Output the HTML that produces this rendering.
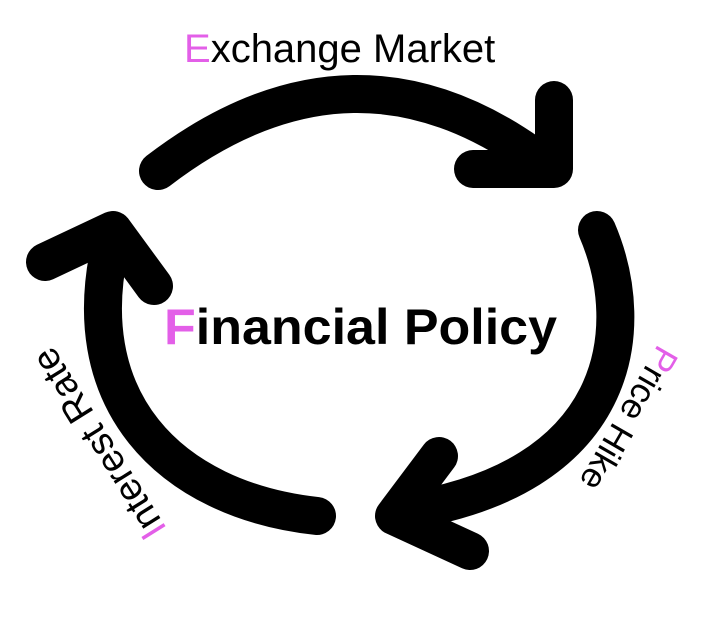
<!DOCTYPE html>
<html><head><meta charset="utf-8"><style>
html,body{margin:0;padding:0;background:#fff;}
.w{position:relative;width:706px;height:618px;overflow:hidden;font-family:"Liberation Sans",sans-serif;}
.t{position:absolute;white-space:nowrap;}
.p{color:#e35fe8;}
</style></head><body><div class="w">
<svg width="706" height="618" style="position:absolute;left:0;top:0">
<g fill="none" stroke="#000" stroke-width="38" stroke-linecap="round" stroke-linejoin="round">
<path d="M158,171 Q355,20 545,165"/>
<path d="M554,100 L554,169 L473,169"/>
<path d="M597,230 C640,330 620,480 400,512"/>
<path d="M439,456 L394,516 L470,551"/>
<path d="M317,516 C170,500 70,400 113,235"/>
<path d="M45,262 L113,230 L154,286"/>
</g>
</svg>
<div class="t" style="left:184px;top:27px;font-size:40px;color:#000;">
<span class="p">E</span>xchange Market</div>
<div class="t" style="left:164px;top:298px;font-size:50px;font-weight:bold;color:#000;transform-origin:0 0;transform:scaleX(1.04);">
<span class="p">F</span>inancial Policy</div>
<div class="t" style="left:628px;top:418px;font-size:35px;transform:translate(-50%,-50%) rotate(120deg);">
<span class="p">P</span>rice Hike</div>
<div class="t" style="left:100px;top:443px;font-size:38px;transform:translate(-50%,-50%) rotate(238deg);">
<span class="p">I</span>nterest Rate</div>
</div></body></html>
